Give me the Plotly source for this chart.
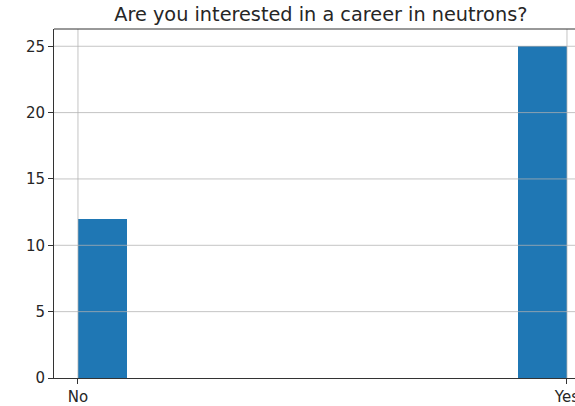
import plotly.graph_objects as go

categories = ["No", "Yes"]
counts = [12, 25]
y_ticks = [0, 5, 10, 15, 20, 25]

# matplotlib-style histogram: 10 bins over [0, 1]; category i sits at position i
positions = list(range(len(categories)))
bin_width = 0.1
offsets = [0 if p == 0 else -bin_width for p in positions]

fig = go.Figure()
fig.add_trace(go.Bar(
    x=positions, y=counts, width=[bin_width] * len(counts), offset=offsets,
    marker=dict(color="#1f77b4", line=dict(width=0)),
    showlegend=False, hoverinfo="skip",
))

grid_color = "rgba(176,176,176,0.75)"
shapes = []
for t in y_ticks[1:]:
    shapes.append(dict(type="line", xref="paper", x0=0, x1=1, yref="y", y0=t, y1=t,
                       line=dict(color=grid_color, width=1), layer="above"))
for p in positions:
    shapes.append(dict(type="line", xref="x", x0=p, x1=p, yref="paper", y0=0, y1=1,
                       line=dict(color=grid_color, width=1), layer="above"))

fig.update_layout(
    width=575, height=406,
    margin=dict(l=54, r=0, t=29, b=28),
    paper_bgcolor="white", plot_bgcolor="white",
    font=dict(family="DejaVu Sans", size=15, color="#262626"),
    title=dict(text="Are you interested in a career in neutrons?", x=0.558, xref="container",
               xanchor="center", y=0.965, yanchor="middle",
               font=dict(size=19.3, color="#262626")),
    shapes=shapes,
    bargap=0,
)
fig.update_xaxes(
    range=[-0.049, 1.0164], tickvals=positions, ticktext=categories,
    showgrid=False, zeroline=False, showline=True, linecolor="#333", linewidth=1,
    mirror=False, ticks="outside", ticklen=5, tickcolor="#333", automargin=False,
    ticklabeloverflow="allow",
)
fig.update_yaxes(
    range=[0, 26.3], tickvals=y_ticks, showgrid=False, zeroline=False,
    showline=True, linecolor="#333", linewidth=1, ticks="outside", ticklen=5,
    tickcolor="#333", automargin=False,
)
# top spine
fig.add_shape(type="line", xref="paper", yref="paper", x0=0, x1=1, y0=1, y1=1,
              line=dict(color="#333", width=1), layer="above")

fig.write_html("out.html", config={"displayModeBar": False},
               post_script="document.body.style.margin='0';document.body.style.padding='0';")
